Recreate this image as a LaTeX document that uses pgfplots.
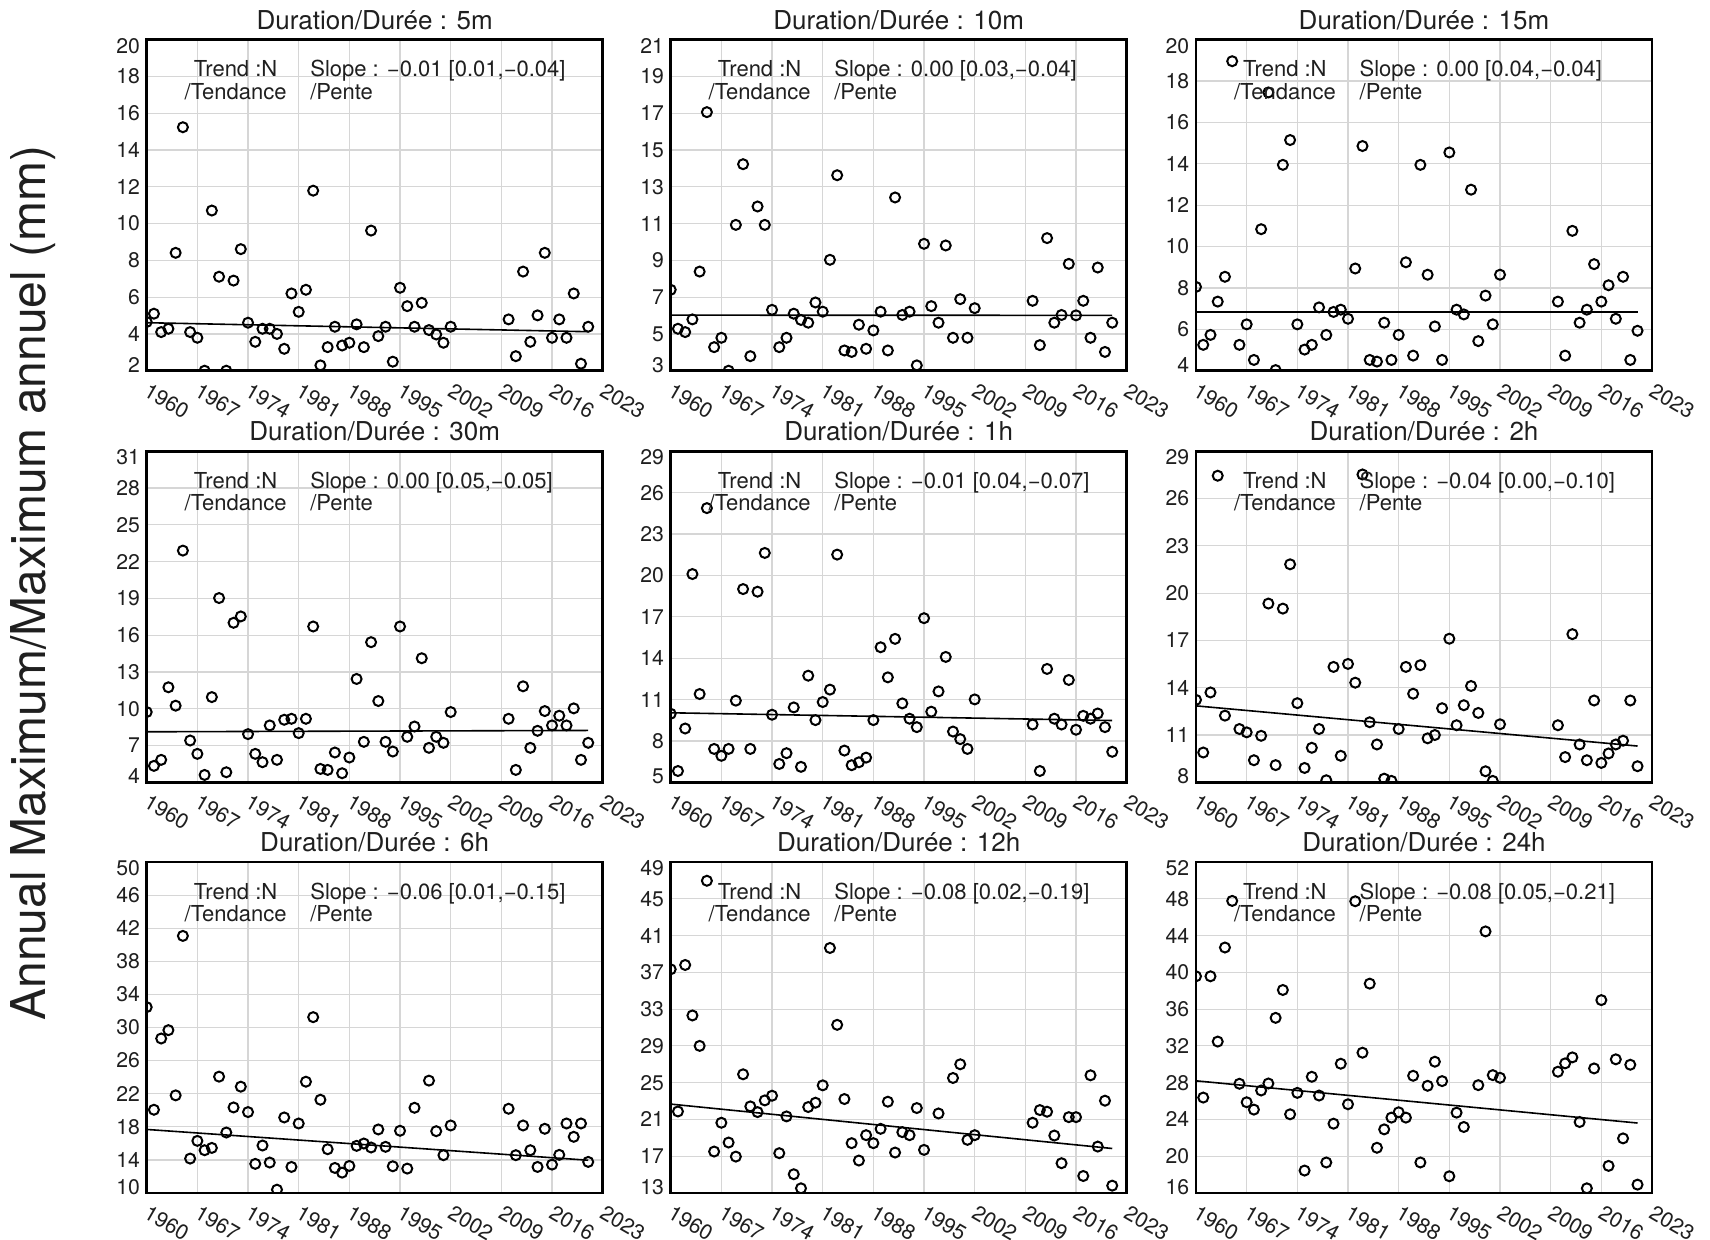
\documentclass[border=0pt]{standalone}
\usepackage{fontspec}
\setmainfont{TeX Gyre Heros}
\usepackage{pgfplots}
\pgfplotsset{compat=1.18}
\definecolor{gridgray}{RGB}{214,214,214}
\pgfplotsset{
 panel/.style={
  scale only axis, width=228pt, height=165.5pt,
  xmin=1960, xmax=2023,
  xtick={1960,1967,...,2023},
  xticklabels={1960,1967,1974,1981,1988,1995,2002,2009,2016,2023},
  grid=major, major grid style={draw=gridgray, line width=0.6pt},
  major tick length=0pt,
  axis line style={line width=1.25pt, black},
  yticklabel style={font=\fontsize{10.6}{12}\selectfont, text=black!88, anchor=east, inner sep=0pt, xshift=-3.2pt},
  xticklabel style={font=\fontsize{10.6}{12}\selectfont, text=black!88, rotate=-30, anchor=north west, inner sep=0pt, yshift=-4pt, xshift=4.2pt},
  clip marker paths=true,
  every axis title shift=0pt,
  title style={at={(0.5,1)}, anchor=base, yshift=5.2pt, inner sep=0pt, font=\fontsize{13}{15}\selectfont, text=black!88},
 },
 pts/.style={black, only marks, mark=o, mark size=2.5pt, mark options={line width=1pt, black}},
 trend/.style={black, line width=0.8pt, no marks},
}
\tikzset{ann/.style={font=\fontsize{11}{12}\selectfont, text=black!88, inner sep=0pt}}
\begin{document}
\begin{tikzpicture}
\path[use as bounding box] (0,0) rectangle (855pt,619.5pt);
\node[rotate=90, font=\fontsize{24}{28}\selectfont, text=black!88] at (16.5pt,328pt) {Annual Maximum/Maximum annuel (mm)};

% ---------- 5m ----------
\begin{axis}[panel, at={(73.35pt,434.15pt)}, ymin=2, ymax=20, ytick={2,4,...,20},
 yticklabels={{\raisebox{3pt}[\height][\depth]{2}},4,6,8,10,12,14,16,18,{\raisebox{-3pt}[\height][\depth]{20}}},
 title={Duration/Durée : 5m}]
\addplot[pts] coordinates {(1960,4.65)(1961,5.1)(1962,4.1)(1963,4.28)(1964,8.41)(1965,15.24)(1966,4.1)(1967,3.79)(1968,2.0)(1969,10.71)(1970,7.11)(1971,2.0)(1972,6.9)(1973,8.61)(1974,4.61)(1975,3.57)(1976,4.28)(1977,4.28)(1978,4.0)(1979,3.19)(1980,6.2)(1981,5.2)(1982,6.4)(1983,11.79)(1984,2.29)(1985,3.28)(1986,4.39)(1987,3.37)(1988,3.52)(1989,4.52)(1990,3.28)(1991,9.62)(1992,3.88)(1993,4.39)(1994,2.49)(1995,6.51)(1996,5.51)(1997,4.39)(1998,5.69)(1999,4.21)(2000,3.97)(2001,3.52)(2002,4.39)(2010,4.79)(2011,2.79)(2012,7.39)(2013,3.57)(2014,5.01)(2015,8.41)(2016,3.79)(2017,4.79)(2018,3.79)(2019,6.2)(2020,2.38)(2021,4.39)};
\addplot[trend] coordinates {(1960,4.61)(2021,4.12)};
\node[ann, anchor=base] at (rel axis cs:0.195,0.888) {Trend :N};
\node[ann, anchor=base] at (rel axis cs:0.195,0.82) {/Tendance};
\node[ann, anchor=base west] at (rel axis cs:0.358,0.888) {Slope : −0.01 [0.01,−0.04]};
\node[ann, anchor=base west] at (rel axis cs:0.358,0.82) {/Pente};
\end{axis}

% ---------- 10m ----------
\begin{axis}[panel, at={(335.35pt,434.15pt)}, ymin=3, ymax=21, ytick={3,5,...,21},
 yticklabels={{\raisebox{3pt}[\height][\depth]{3}},5,7,9,11,13,15,17,19,{\raisebox{-3pt}[\height][\depth]{21}}},
 title={Duration/Durée : 10m}]
\addplot[pts] coordinates {(1960,7.40)(1961,5.28)(1962,5.10)(1963,5.79)(1964,8.39)(1965,17.06)(1966,4.28)(1967,4.79)(1968,3.0)(1969,10.93)(1970,14.23)(1971,3.79)(1972,11.93)(1973,10.93)(1974,6.31)(1975,4.28)(1976,4.79)(1977,6.10)(1978,5.76)(1979,5.61)(1980,6.71)(1981,6.21)(1982,9.03)(1983,13.63)(1984,4.10)(1985,4.02)(1986,5.50)(1987,4.19)(1988,5.19)(1989,6.21)(1990,4.10)(1991,12.42)(1992,6.03)(1993,6.21)(1994,3.29)(1995,9.90)(1996,6.51)(1997,5.61)(1998,9.81)(1999,4.79)(2000,6.89)(2001,4.79)(2002,6.40)(2010,6.80)(2011,4.39)(2012,10.21)(2013,5.61)(2014,6.03)(2015,8.81)(2016,6.01)(2017,6.80)(2018,4.79)(2019,8.61)(2020,4.02)(2021,5.61)};
\addplot[trend] coordinates {(1960,6.02)(2021,6.01)};
\node[ann, anchor=base] at (rel axis cs:0.195,0.888) {Trend :N};
\node[ann, anchor=base] at (rel axis cs:0.195,0.82) {/Tendance};
\node[ann, anchor=base west] at (rel axis cs:0.358,0.888) {Slope : 0.00 [0.03,−0.04]};
\node[ann, anchor=base west] at (rel axis cs:0.358,0.82) {/Pente};
\end{axis}

% ---------- 15m ----------
\begin{axis}[panel, at={(598pt,434.15pt)}, ymin=4, ymax=20, ytick={4,6,...,20},
 yticklabels={{\raisebox{3pt}[\height][\depth]{4}},6,8,10,12,14,16,18,{\raisebox{-3pt}[\height][\depth]{20}}},
 title={Duration/Durée : 15m}]
\addplot[pts] coordinates {(1960,8.05)(1961,5.25)(1962,5.73)(1963,7.34)(1964,8.54)(1965,18.96)(1966,5.25)(1967,6.24)(1968,4.52)(1969,10.84)(1970,17.45)(1971,4.03)(1972,13.95)(1973,15.15)(1974,6.24)(1975,5.02)(1976,5.25)(1977,7.06)(1978,5.73)(1979,6.84)(1980,6.95)(1981,6.51)(1982,8.94)(1983,14.86)(1984,4.52)(1985,4.44)(1986,6.32)(1987,4.52)(1988,5.73)(1989,9.24)(1990,4.73)(1991,13.95)(1992,8.64)(1993,6.14)(1994,4.52)(1995,14.55)(1996,6.95)(1997,6.72)(1998,12.75)(1999,5.43)(2000,7.63)(2001,6.24)(2002,8.64)(2010,7.34)(2011,4.73)(2012,10.76)(2013,6.32)(2014,6.95)(2015,9.15)(2016,7.34)(2017,8.13)(2018,6.51)(2019,8.54)(2020,4.52)(2021,5.93)};
\addplot[trend] coordinates {(1960,6.84)(2021,6.84)};
\node[ann, anchor=base] at (rel axis cs:0.195,0.888) {Trend :N};
\node[ann, anchor=base] at (rel axis cs:0.195,0.82) {/Tendance};
\node[ann, anchor=base west] at (rel axis cs:0.358,0.888) {Slope : 0.00 [0.04,−0.04]};
\node[ann, anchor=base west] at (rel axis cs:0.358,0.82) {/Pente};
\end{axis}

% ---------- 30m ----------
\begin{axis}[panel, at={(73.35pt,228.35pt)}, ymin=4, ymax=31, ytick={4,7,...,31},
 yticklabels={{\raisebox{3pt}[\height][\depth]{4}},7,10,13,16,19,22,25,28,{\raisebox{-3pt}[\height][\depth]{31}}},
 title={Duration/Durée : 30m}]
\addplot[pts] coordinates {(1960,9.73)(1961,5.34)(1962,5.83)(1963,11.75)(1964,10.25)(1965,22.90)(1966,7.41)(1967,6.32)(1968,4.60)(1969,10.95)(1970,19.03)(1971,4.82)(1972,17.01)(1973,17.53)(1974,7.93)(1975,6.32)(1976,5.64)(1977,8.64)(1978,5.83)(1979,9.10)(1980,9.18)(1981,8.01)(1982,9.18)(1983,16.71)(1984,5.09)(1985,5.01)(1986,6.43)(1987,4.74)(1988,6.02)(1989,12.43)(1990,7.30)(1991,15.43)(1992,10.63)(1993,7.30)(1994,6.51)(1995,16.71)(1996,7.71)(1997,8.55)(1998,14.12)(1999,6.81)(2000,7.71)(2001,7.22)(2002,9.73)(2010,9.18)(2011,5.01)(2012,11.83)(2013,6.81)(2014,8.20)(2015,9.81)(2016,8.64)(2017,9.43)(2018,8.64)(2019,10.03)(2020,5.83)(2021,7.22)};
\addplot[trend] coordinates {(1960,8.12)(2021,8.23)};
\node[ann, anchor=base] at (rel axis cs:0.195,0.888) {Trend :N};
\node[ann, anchor=base] at (rel axis cs:0.195,0.82) {/Tendance};
\node[ann, anchor=base west] at (rel axis cs:0.358,0.888) {Slope : 0.00 [0.05,−0.05]};
\node[ann, anchor=base west] at (rel axis cs:0.358,0.82) {/Pente};
\end{axis}

% ---------- 1h ----------
\begin{axis}[panel, at={(335.35pt,228.35pt)}, ymin=5, ymax=29, ytick={5,8,...,29},
 yticklabels={{\raisebox{3pt}[\height][\depth]{5}},8,11,14,17,20,23,26,{\raisebox{-3pt}[\height][\depth]{29}}},
 title={Duration/Durée : 1h}]
\addplot[pts] coordinates {(1960,9.97)(1961,5.82)(1962,8.90)(1963,20.10)(1964,11.40)(1965,24.88)(1966,7.42)(1967,6.92)(1968,7.42)(1969,10.92)(1970,19.01)(1971,7.42)(1972,18.82)(1973,21.63)(1974,9.90)(1975,6.33)(1976,7.11)(1977,10.43)(1978,6.12)(1979,12.73)(1980,9.51)(1981,10.82)(1982,11.72)(1983,21.51)(1984,7.30)(1985,6.24)(1986,6.45)(1987,6.79)(1988,9.51)(1989,14.79)(1990,12.61)(1991,15.40)(1992,10.72)(1993,9.61)(1994,9.00)(1995,16.90)(1996,10.12)(1997,11.59)(1998,14.09)(1999,8.68)(2000,8.13)(2001,7.42)(2002,11.01)(2010,9.19)(2011,5.82)(2012,13.22)(2013,9.61)(2014,9.19)(2015,12.42)(2016,8.81)(2017,9.82)(2018,9.61)(2019,9.99)(2020,9.00)(2021,7.21)};
\addplot[trend] coordinates {(1960,10.04)(2021,9.48)};
\node[ann, anchor=base] at (rel axis cs:0.195,0.888) {Trend :N};
\node[ann, anchor=base] at (rel axis cs:0.195,0.82) {/Tendance};
\node[ann, anchor=base west] at (rel axis cs:0.358,0.888) {Slope : −0.01 [0.04,−0.07]};
\node[ann, anchor=base west] at (rel axis cs:0.358,0.82) {/Pente};
\end{axis}

% ---------- 2h ----------
\begin{axis}[panel, at={(598pt,228.35pt)}, ymin=8, ymax=29, ytick={8,11,...,29},
 yticklabels={{\raisebox{3pt}[\height][\depth]{8}},11,14,17,20,23,26,{\raisebox{-3pt}[\height][\depth]{29}}},
 title={Duration/Durée : 2h}]
\addplot[pts] coordinates {(1960,13.23)(1961,9.89)(1962,13.70)(1963,27.45)(1964,12.23)(1966,11.38)(1967,11.17)(1968,9.40)(1969,10.95)(1970,19.34)(1971,9.09)(1972,19.02)(1973,21.83)(1974,13.02)(1975,8.91)(1976,10.19)(1977,11.38)(1978,8.13)(1979,15.32)(1980,9.68)(1981,15.51)(1982,14.32)(1983,27.53)(1984,11.81)(1985,10.40)(1986,8.23)(1987,8.09)(1988,11.38)(1989,15.32)(1990,13.62)(1991,15.43)(1992,10.79)(1993,11.00)(1994,12.70)(1995,17.11)(1996,11.62)(1997,12.89)(1998,14.11)(1999,12.40)(2000,8.70)(2001,8.09)(2002,11.68)(2010,11.62)(2011,9.60)(2012,17.40)(2013,10.40)(2014,9.40)(2015,13.19)(2016,9.23)(2017,9.83)(2018,10.40)(2019,10.64)(2020,13.19)(2021,9.02)};
\addplot[trend] coordinates {(1960,12.85)(2021,10.30)};
\node[ann, anchor=base] at (rel axis cs:0.195,0.888) {Trend :N};
\node[ann, anchor=base] at (rel axis cs:0.195,0.82) {/Tendance};
\node[ann, anchor=base west] at (rel axis cs:0.358,0.888) {Slope : −0.04 [0.00,−0.10]};
\node[ann, anchor=base west] at (rel axis cs:0.358,0.82) {/Pente};
\end{axis}

% ---------- 6h ----------
\begin{axis}[panel, at={(73.35pt,23pt)}, ymin=10, ymax=50, ytick={10,14,...,50},
 yticklabels={{\raisebox{3pt}[\height][\depth]{10}},14,18,22,26,30,34,38,42,46,{\raisebox{-3pt}[\height][\depth]{50}}},
 title={Duration/Durée : 6h}]
\addplot[pts] coordinates {(1960,32.46)(1961,20.06)(1962,28.67)(1963,29.68)(1964,21.80)(1965,41.07)(1966,14.16)(1967,16.30)(1968,15.17)(1969,15.45)(1970,24.06)(1971,17.31)(1972,20.34)(1973,22.85)(1974,19.78)(1975,13.52)(1976,15.74)(1977,13.68)(1978,10.40)(1979,19.13)(1980,13.15)(1981,18.40)(1982,23.45)(1983,31.25)(1984,21.27)(1985,15.29)(1986,13.03)(1987,12.46)(1988,13.27)(1989,15.70)(1990,15.98)(1991,15.50)(1992,17.68)(1993,15.58)(1994,13.23)(1995,17.52)(1996,12.95)(1997,20.30)(1999,23.58)(2000,17.47)(2001,14.57)(2002,18.16)(2010,20.18)(2011,14.57)(2012,18.16)(2013,15.17)(2014,13.15)(2015,17.76)(2016,13.43)(2017,14.61)(2018,18.40)(2019,16.79)(2020,18.40)(2021,13.76)};
\addplot[trend] coordinates {(1960,17.68)(2021,13.96)};
\node[ann, anchor=base] at (rel axis cs:0.195,0.888) {Trend :N};
\node[ann, anchor=base] at (rel axis cs:0.195,0.82) {/Tendance};
\node[ann, anchor=base west] at (rel axis cs:0.358,0.888) {Slope : −0.06 [0.01,−0.15]};
\node[ann, anchor=base west] at (rel axis cs:0.358,0.82) {/Pente};
\end{axis}

% ---------- 12h ----------
\begin{axis}[panel, at={(335.35pt,23pt)}, ymin=13, ymax=49, ytick={13,17,...,49},
 yticklabels={{\raisebox{3pt}[\height][\depth]{13}},17,21,25,29,33,37,41,45,{\raisebox{-3pt}[\height][\depth]{49}}},
 title={Duration/Durée : 12h}]
\addplot[pts] coordinates {(1960,37.33)(1961,21.87)(1962,37.80)(1963,32.31)(1964,29.0)(1965,46.96)(1966,17.51)(1967,20.64)(1968,18.49)(1969,16.96)(1970,25.91)(1971,22.42)(1972,21.80)(1973,23.07)(1974,23.58)(1975,17.33)(1976,21.33)(1977,15.04)(1978,13.51)(1979,22.35)(1980,22.82)(1981,24.71)(1982,39.65)(1983,31.29)(1984,23.22)(1985,18.42)(1986,16.53)(1987,19.29)(1988,18.42)(1989,19.98)(1990,22.93)(1991,17.40)(1992,19.62)(1993,19.29)(1994,22.24)(1995,17.69)(1997,21.65)(1999,25.51)(2000,27.0)(2001,18.78)(2002,19.29)(2010,20.64)(2011,22.02)(2012,21.84)(2013,19.25)(2014,16.24)(2015,21.25)(2016,21.25)(2017,14.85)(2018,25.80)(2019,18.05)(2020,23.04)(2021,13.80)};
\addplot[trend] coordinates {(1960,22.67)(2021,17.84)};
\node[ann, anchor=base] at (rel axis cs:0.195,0.888) {Trend :N};
\node[ann, anchor=base] at (rel axis cs:0.195,0.82) {/Tendance};
\node[ann, anchor=base west] at (rel axis cs:0.358,0.888) {Slope : −0.08 [0.02,−0.19]};
\node[ann, anchor=base west] at (rel axis cs:0.358,0.82) {/Pente};
\end{axis}

% ---------- 24h ----------
\begin{axis}[panel, at={(598pt,23pt)}, ymin=16, ymax=52, ytick={16,20,...,52},
 yticklabels={{\raisebox{3pt}[\height][\depth]{16}},20,24,28,32,36,40,44,48,{\raisebox{-3pt}[\height][\depth]{52}}},
 title={Duration/Durée : 24h}]
\addplot[pts] coordinates {(1960,39.57)(1961,26.38)(1962,39.57)(1963,32.47)(1964,42.70)(1965,47.77)(1966,27.88)(1967,25.87)(1968,25.07)(1969,27.15)(1970,27.91)(1971,35.05)(1972,38.08)(1973,24.56)(1974,26.89)(1975,18.44)(1976,28.64)(1977,26.60)(1978,19.32)(1979,23.54)(1980,30.06)(1981,25.65)(1982,47.73)(1983,31.26)(1984,38.77)(1985,20.92)(1986,22.92)(1987,24.20)(1988,24.78)(1989,24.20)(1990,28.75)(1991,19.32)(1992,27.66)(1993,30.28)(1994,28.17)(1995,17.82)(1996,24.74)(1997,23.18)(1999,27.73)(2000,44.45)(2001,28.82)(2002,28.53)(2010,29.19)(2011,30.10)(2012,30.75)(2013,23.72)(2014,16.51)(2015,29.55)(2016,36.98)(2017,18.95)(2018,30.54)(2019,21.94)(2020,29.95)(2021,16.91)};
\addplot[trend] coordinates {(1960,28.20)(2021,23.61)};
\node[ann, anchor=base] at (rel axis cs:0.195,0.888) {Trend :N};
\node[ann, anchor=base] at (rel axis cs:0.195,0.82) {/Tendance};
\node[ann, anchor=base west] at (rel axis cs:0.358,0.888) {Slope : −0.08 [0.05,−0.21]};
\node[ann, anchor=base west] at (rel axis cs:0.358,0.82) {/Pente};
\end{axis}
\end{tikzpicture}
\end{document}
